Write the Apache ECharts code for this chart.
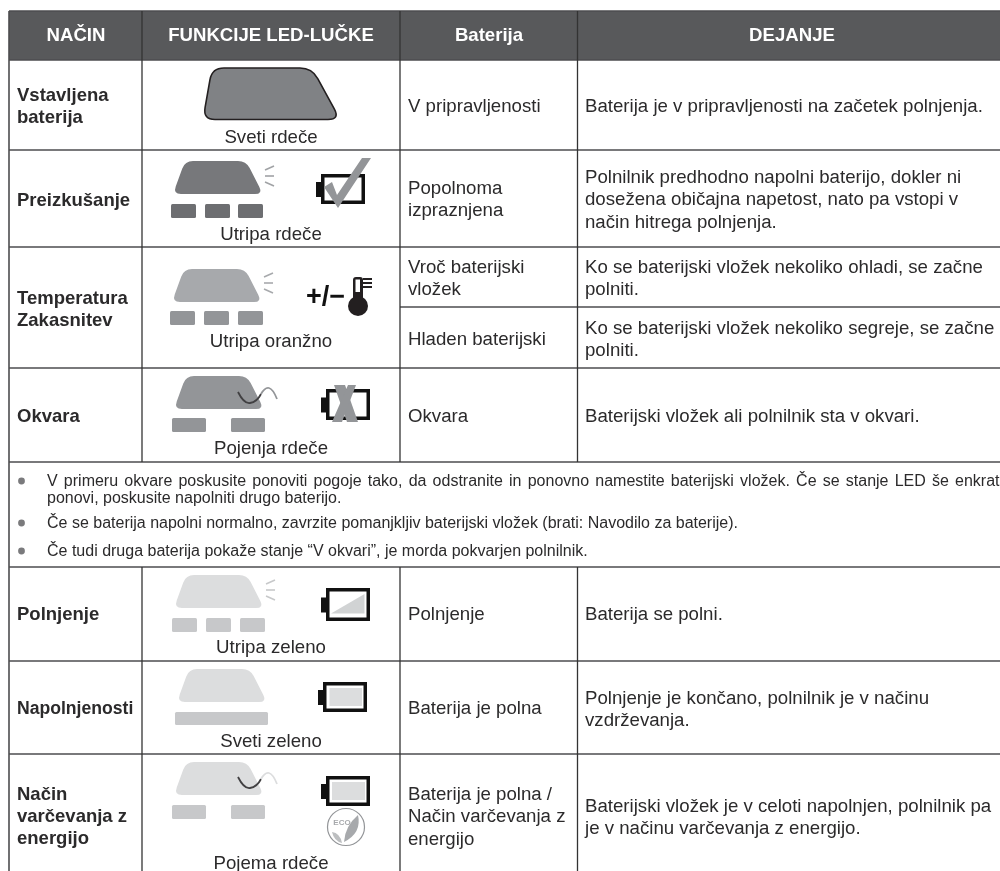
<!DOCTYPE html>
<html><head><meta charset="utf-8">
<style>html,body{margin:0;padding:0;background:#fff}#c{width:1000px;height:871px}</style>
<script src="https://cdn.jsdelivr.net/npm/echarts@6/dist/echarts.min.js"></script>
</head><body><div id="c"></div>
<script>
const headers = ['NAČIN', 'FUNKCIJE LED-LUČKE', 'Baterija', 'DEJANJE'];
const modes = [['Vstavljena', 'baterija'], ['Preizkušanje'], ['Temperatura', 'Zakasnitev'], ['Okvara'], ['Polnjenje'], ['Napolnjenosti'], ['Način', 'varčevanja z', 'energijo']];
const ledStates = ['Sveti rdeče', 'Utripa rdeče', 'Utripa oranžno', 'Pojenja rdeče', 'Utripa zeleno', 'Sveti zeleno', 'Pojema rdeče'];
const batteryStates = [['V pripravljenosti'], ['Popolnoma', 'izpraznjena'], ['Vroč baterijski', 'vložek'], ['Hladen baterijski'], ['Okvara'], ['Polnjenje'], ['Baterija je polna'], ['Baterija je polna /', 'Način varčevanja z', 'energijo']];
const actions = [['Baterija je v pripravljenosti na začetek polnjenja.'],
  ['Polnilnik predhodno napolni baterijo, dokler ni', 'dosežena običajna napetost, nato pa vstopi v', 'način hitrega polnjenja.'],
  ['Ko se baterijski vložek nekoliko ohladi, se začne', 'polniti.'],
  ['Ko se baterijski vložek nekoliko segreje, se začne', 'polniti.'],
  ['Baterijski vložek ali polnilnik sta v okvari.'],
  ['Baterija se polni.'],
  ['Polnjenje je končano, polnilnik je v načinu', 'vzdrževanja.'],
  ['Baterijski vložek je v celoti napolnjen, polnilnik pa', 'je v načinu varčevanja z energijo.']];
const notes = [['V primeru okvare poskusite ponoviti pogoje tako, da odstranite in ponovno namestite baterijski vložek. Če se stanje LED še enkrat', 'ponovi, poskusite napolniti drugo baterijo.'],
  ['Če se baterija napolni normalno, zavrzite pomanjkljiv baterijski vložek (brati: Navodilo za baterije).'],
  ['Če tudi druga baterija pokaže stanje “V okvari”, je morda pokvarjen polnilnik.']];

/* layout (kept apart from the content above) */
const W = 1000, H = 871, FF = '"Liberation Sans", Arial, sans-serif';
const colX = [9, 142, 400, 577.5, 1002];
const rowY = [11, 60, 150, 247, 368, 462, 567, 661, 754, 880];
const headerX = [76, 271, 489, 792];
const modeY = [95, 200, 298, 416, 614, 708, 794];
const modeSize = [18.5, 18.5, 18.5, 18.5, 18.5, 17.6, 18.5];
const ledY = [137, 234, 341, 448, 647, 741, 863];
const batY = [106, 188, 267, 339, 416, 614, 708, 794];
const actY = [106, 177, 267, 328, 416, 614, 698, 806];
const noteY = [481, 523, 551];
const BODY = 18.65, NOTE = 16, LH = 22.3;

function scene(api) {
  const P = (x, y) => api.coord([x, y]);
  const kids = [];
  const text = (t, x, y, o) => {
    const p = P(x, y + 0.8);
    kids.push({ type: 'text', silent: true, style: { x: p[0], y: p[1], text: t, fill: (o && o.fill) || '#2b2a2b',
      font: ((o && o.bold) ? 'bold ' : '') + ((o && o.size) || BODY) + 'px ' + FF,
      textAlign: (o && o.align) || 'left', textVerticalAlign: 'middle' } });
  };
  const rect = (x0, y0, x1, y1, fill, r) => {
    const a = P(x0, y0), b = P(x1, y1);
    kids.push({ type: 'rect', shape: { x: a[0], y: a[1], width: b[0] - a[0], height: b[1] - a[1], r: r || 0 }, style: { fill } });
  };
  const line = (x0, y0, x1, y1, stroke, w) => {
    const a = P(x0, y0), b = P(x1, y1);
    kids.push({ type: 'line', shape: { x1: a[0], y1: a[1], x2: b[0], y2: b[1] }, style: { stroke, lineWidth: w, fill: null } });
  };
  const poly = (pts, fill) => kids.push({ type: 'polygon', shape: { points: pts.map(q => P(q[0], q[1])) }, style: { fill } });
  const path = (d, style) => kids.push({ type: 'path', shape: { pathData: d }, style });
  const rounded = (pts, r) => {
    let d = '';
    pts.map(q => P(q[0], q[1])).forEach((v, i, arr) => {
      const a = arr[(i + arr.length - 1) % arr.length], b = arr[(i + 1) % arr.length];
      const t = (u) => { const dx = u[0] - v[0], dy = u[1] - v[1], l = Math.hypot(dx, dy); return [v[0] + dx / l * r, v[1] + dy / l * r]; };
      const s = t(a), e = t(b);
      d += (i ? 'L' : 'M') + s[0] + ' ' + s[1] + 'Q' + v[0] + ' ' + v[1] + ' ' + e[0] + ' ' + e[1];
    });
    return d + 'Z';
  };
  const lamp = (x, y, fill) => path(rounded([[x + 12, y], [x + 73, y], [x + 90, y + 33], [x, y + 33]], 8), { fill });
  const rays = (x, y, c) => {
    line(x, y - 6, x + 9, y - 10, c, 1.6); line(x, y, x + 9, y, c, 1.6); line(x, y + 6, x + 9, y + 10, c, 1.6);
  };
  const three = (xs, y, w, fill) => xs.forEach(x => rect(x, y, x + w, y + 14, fill, 1.5));
  const curve = (pts, stroke) => {
    const q = pts.map(v => { const c = P(v[0], v[1]); return c[0] + ' ' + c[1]; });
    let d = 'M' + q[0];
    for (let i = 1; i + 1 < q.length; i += 2) d += 'Q' + q[i] + ' ' + q[i + 1];
    path(d, { stroke, lineWidth: 1.8, fill: null });
  };
  const wave = (x, y, dark, light) => {
    curve([[x, y], [x + 6, y + 12], [x + 12, y + 11], [x + 19, y + 10], [x + 23, y + 2]], dark);
    curve([[x + 23, y + 2], [x + 27, y - 5], [x + 31, y - 4], [x + 35, y - 3], [x + 39, y + 7]], light);
  };
  const battery = (x, y, h) => {
    const a = P(x, y), b = P(x + 44, y + h);
    kids.push({ type: 'rect', shape: { x: a[0] + 1.75, y: a[1] + 1.75, width: b[0] - a[0] - 3.5, height: b[1] - a[1] - 3.5 }, style: { stroke: '#111', lineWidth: 3.5, fill: '#fff' } });
    rect(x - 5, y + (h - 15) / 2 + .5, x, y + (h + 15) / 2 + .5, '#111');
  };

  /* header + grid */
  rect(colX[0], rowY[0], W, rowY[1], '#58595b');
  headers.forEach((t, i) => text(t, headerX[i], 35, { bold: true, size: 18.6, fill: '#fff', align: 'center' }));
  const hl = '#4d4d4f';
  rowY.slice(0, -1).forEach(y => line(colX[0], y, W, y, hl, 1.6));
  line(colX[2], 307, W, 307, hl, 1.6);
  line(colX[0], rowY[0], colX[0], H, hl, 1.6);
  [1, 2, 3].forEach(c => {
    line(colX[c], rowY[0], colX[c], rowY[5], '#333', 1.3);
    line(colX[c], rowY[6], colX[c], H, '#333', 1.3);
  });

  /* cell text */
  modes.forEach((m, i) => m.forEach((t, k) => text(t, 17, modeY[i] + k * LH, { bold: true, size: modeSize[i] })));
  ledStates.forEach((t, i) => text(t, 271, ledY[i], { align: 'center' }));
  batteryStates.forEach((m, i) => m.forEach((t, k) => text(t, 408, batY[i] + k * LH)));
  actions.forEach((m, i) => m.forEach((t, k) => text(t, 585, actY[i] + k * LH)));

  /* notes */
  const mc = document.createElement('canvas').getContext('2d');
  mc.font = NOTE + 'px ' + FF;
  notes.forEach((m, i) => {
    const b = P(21.5, noteY[i]);
    kids.push({ type: 'circle', shape: { cx: b[0], cy: b[1], r: 3.4 }, style: { fill: '#7a7a7c' } });
    m.forEach((t, k) => {
      const y = noteY[i] + k * 17;
      if (i === 0 && k === 0) {
        const words = t.split(' '), ws = words.map(w => mc.measureText(w).width);
        const gap = (999.5 - 47 - ws.reduce((s, v) => s + v, 0)) / (words.length - 1);
        let x = 47;
        words.forEach((w, j) => { text(w, x, y, { size: NOTE }); x += ws[j] + gap; });
      } else text(t, 47, y, { size: NOTE });
    });
  });

  /* LED + battery pictograms */
  path(rounded([[212, 68], [312, 68], [340, 119.5], [203, 119.5]], 12), { fill: '#808285', stroke: '#231f20', lineWidth: 1.6 });

  lamp(173, 161, '#77787b'); rays(265, 176, '#a0a2a5'); three([171, 205, 238], 204, 25, '#6d6e71');
  battery(321, 174, 30);
  poly([[324, 187], [338, 208], [371, 158], [362, 158], [337, 195], [332, 182]], '#939598');

  lamp(172, 269, '#a7a9ac'); rays(264, 283, '#a7a9ac'); three([170, 204, 238], 311, 25, '#939598');
  text('+/−', 306, 297, { bold: true, size: 27, fill: '#111' });
  rect(353, 277, 363, 305, '#231f20', 3);
  const bulb = P(358, 306);
  kids.push({ type: 'circle', shape: { cx: bulb[0], cy: bulb[1], r: 10 }, style: { fill: '#231f20' } });
  [278, 282, 286].forEach(y => rect(363, y, 372, y + 2, '#231f20'));
  rect(355.5, 279.5, 360, 292, '#fff');

  lamp(174, 376, '#939598'); wave(238, 392, '#414042', '#939598'); three([172, 231], 418, 34, '#939598');
  battery(326, 389, 31);
  poly([[334, 385], [345, 385], [358, 422], [347, 422]], '#939598');
  poly([[348, 385], [356, 385], [342, 422], [332, 422]], '#939598');

  lamp(174, 575, '#dcddde'); rays(266, 590, '#c7c8ca'); three([172, 206, 240], 618, 25, '#c7c8ca');
  battery(326, 588, 33);
  poly([[331, 613.5], [364.5, 613.5], [364.5, 594]], '#d1d3d4');

  lamp(177, 669, '#dcddde'); rect(175, 712, 268, 725, '#c7c8ca', 1.5);
  battery(323, 682, 30);
  rect(329.5, 688, 362, 706, '#dcddde');

  lamp(174, 762, '#dcddde'); wave(238, 777, '#414042', '#dcddde'); three([172, 231], 805, 34, '#c7c8ca');
  battery(326, 776, 30);
  rect(332, 782, 365, 800, '#dcddde');
  const e = P(346, 827);
  kids.push({ type: 'circle', shape: { cx: e[0], cy: e[1], r: 18.5 }, style: { fill: '#fff', stroke: '#939598', lineWidth: 1.2 } });
  text('ECO', 342, 822, { bold: true, size: 8, fill: '#a7a9ac', align: 'center' });
  const lf = (pts, fill) => { const q = pts.map(v => P(v[0], v[1]));
    path(`M${q[0][0]} ${q[0][1]}Q${q[1][0]} ${q[1][1]} ${q[2][0]} ${q[2][1]}Q${q[3][0]} ${q[3][1]} ${q[0][0]} ${q[0][1]}Z`, { fill }); };
  lf([[344, 842], [345, 826], [358, 815], [362, 833]], '#a7a9ac');
  lf([[342, 843], [340, 833], [332, 832], [334, 841]], '#bcbec0');

  return { type: 'group', children: kids };
}

const chart = echarts.init(document.getElementById('c'), null, { renderer: 'canvas' });
chart.setOption({
  animation: false,
  backgroundColor: '#fff',
  grid: { left: 0, right: 0, top: 0, bottom: 0 },
  xAxis: { type: 'value', min: 0, max: W, show: false },
  yAxis: { type: 'value', min: 0, max: H, inverse: true, show: false },
  tooltip: { show: false },
  series: [{ type: 'custom', coordinateSystem: 'cartesian2d', clip: false, silent: true, data: [[0, 0]], renderItem: (p, api) => scene(api) }]
});
</script></body></html>
